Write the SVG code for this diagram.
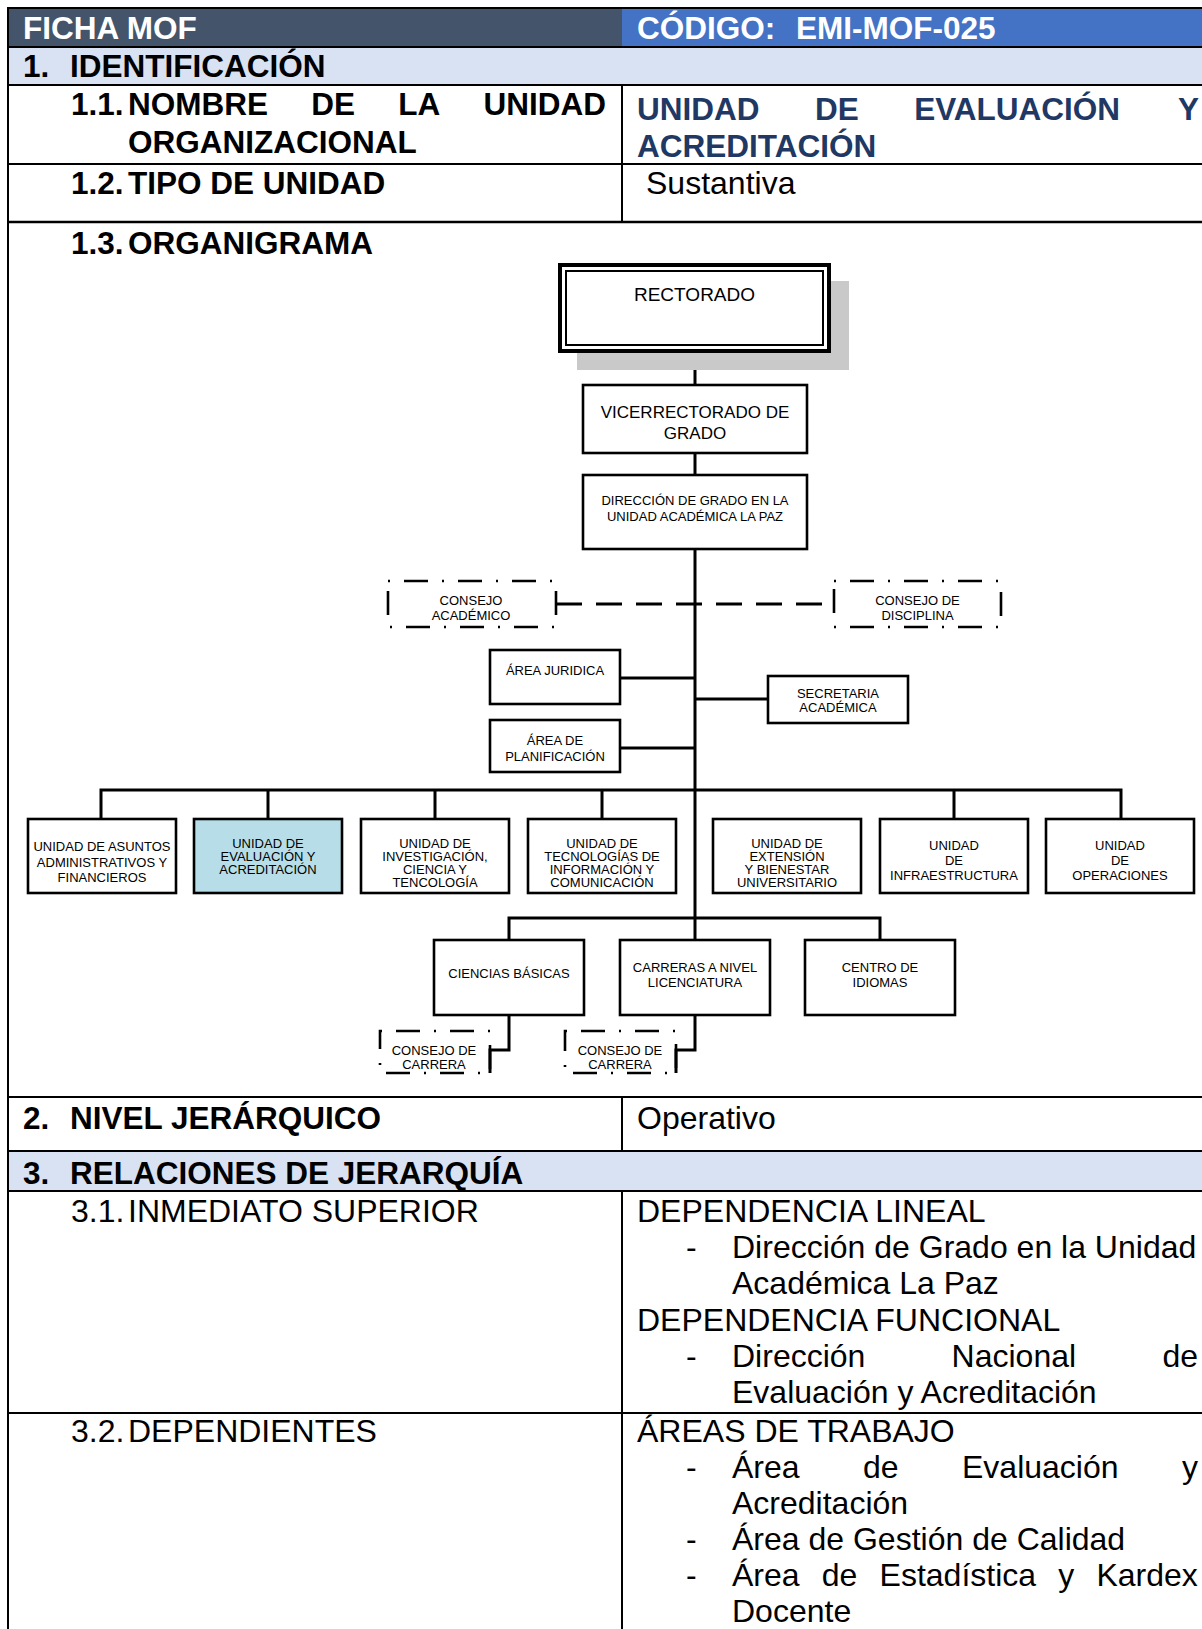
<svg xmlns="http://www.w3.org/2000/svg" width="1202" height="1629" viewBox="0 0 1202 1629">
<style>
text{font-family:"Liberation Sans",Arial,sans-serif;fill:#000}
.hb{font-size:31.5px;font-weight:bold}
.hw{font-size:31.5px;font-weight:bold;fill:#fff}
.nv{font-size:31.5px;font-weight:bold;fill:#1F3864}
.r{font-size:32px}
.tl{stroke:#000;stroke-width:2;fill:none}
.bx{fill:#fff;stroke:#000;stroke-width:2.6}
.dd{fill:none;stroke:#000;stroke-width:2.6;stroke-dasharray:24 14 2 14;stroke-dashoffset:38}
.cn{fill:none;stroke:#000;stroke-width:3}
.s19{font-size:19px;text-anchor:middle}
.s17{font-size:17px;text-anchor:middle}
.s13{font-size:13px;text-anchor:middle}
</style>
<g id="table">
<rect x="8" y="8" width="614" height="39" fill="#44546A"/>
<rect x="622" y="8" width="580" height="39" fill="#4472C4"/>
<rect x="8" y="47" width="1194" height="38" fill="#D9E2F3"/>
<rect x="8" y="1151" width="1194" height="40" fill="#D9E2F3"/>
<path class="tl" d="M7 8H1202M7 47H1202M7 85H1202M7 164H1202M7 1097H1202M7 1151H1202M7 1191H1202M7 1413H1202M8 7V1629M622 85V222M622 1097V1151M622 1191V1629"/>
<path d="M7 222H1202" stroke="#000" stroke-width="2.6"/>
<text class="hw" x="23" y="38.5">FICHA MOF</text>
<text class="hw" x="637" y="38.5">CÓDIGO:<tspan x="796">EMI-MOF-025</tspan></text>
<text class="hb" x="23" y="77">1.<tspan x="70">IDENTIFICACIÓN</tspan></text>
<text class="hb" x="71" y="115">1.1.<tspan x="128">NOMBRE</tspan><tspan x="311.3">DE</tspan><tspan x="398.3">LA</tspan><tspan x="483.6">UNIDAD</tspan></text>
<text class="hb" x="128" y="153">ORGANIZACIONAL</text>
<text class="nv" x="637" y="120">UNIDAD<tspan x="815">DE</tspan><tspan x="914.2">EVALUACIÓN</tspan><tspan x="1178">Y</tspan></text>
<text class="nv" x="637" y="157">ACREDITACIÓN</text>
<text class="hb" x="71" y="194">1.2.<tspan x="128">TIPO DE UNIDAD</tspan></text>
<text class="r" x="646" y="194">Sustantiva</text>
<text class="hb" x="71" y="254">1.3.<tspan x="128">ORGANIGRAMA</tspan></text>
<text class="hb" x="23" y="1129">2.<tspan x="70">NIVEL JERÁRQUICO</tspan></text>
<text class="r" x="637" y="1129">Operativo</text>
<text class="hb" x="23" y="1184">3.<tspan x="70">RELACIONES DE JERARQUÍA</tspan></text>
<text class="r" x="71" y="1222">3.1.<tspan x="128">INMEDIATO SUPERIOR</tspan></text>
<text class="r" x="637" y="1222">DEPENDENCIA LINEAL</text>
<text class="r" x="686" y="1258">-<tspan x="732">Dirección de Grado en la Unidad</tspan></text>
<text class="r" x="732" y="1294">Académica La Paz</text>
<text class="r" x="637" y="1331">DEPENDENCIA FUNCIONAL</text>
<text class="r" x="686" y="1367">-<tspan x="732">Dirección</tspan><tspan x="951.6">Nacional</tspan><tspan x="1162.4">de</tspan></text>
<text class="r" x="732" y="1403">Evaluación y Acreditación</text>
<text class="r" x="71" y="1442">3.2.<tspan x="128">DEPENDIENTES</tspan></text>
<text class="r" x="637" y="1442">ÁREAS DE TRABAJO</text>
<text class="r" x="686" y="1478">-<tspan x="732">Área</tspan><tspan x="863">de</tspan><tspan x="962">Evaluación</tspan><tspan x="1182">y</tspan></text>
<text class="r" x="732" y="1514">Acreditación</text>
<text class="r" x="686" y="1550">-<tspan x="732">Área de Gestión de Calidad</tspan></text>
<text class="r" x="686" y="1586">-<tspan x="732" word-spacing="13.3">Área de Estadística y Kardex</tspan></text>
<text class="r" x="732" y="1622">Docente</text>
</g>
<g id="connectors">
<path class="cn" d="M695 351V385M695 453V475M695 549V940"/>
<path class="cn" d="M556 604H834" stroke-dasharray="26 14"/>
<path class="cn" d="M620 678H695M620 748H695M695 699H768"/>
<path class="cn" d="M101 819V790H1121V819M268 790V819M435 790V819M602 790V819M954 790V819"/>
<path class="cn" d="M509 940V918H880V940"/>
<path class="cn" d="M509 1015V1050H490V1073M695 1015V1050H676V1073"/>
</g>
<g id="n-rectorado">
<rect x="577" y="281" width="272" height="89" fill="#C9C9C9"/>
<rect x="560" y="265" width="269" height="86" fill="#fff" stroke="#000" stroke-width="4"/>
<rect x="566" y="271" width="257" height="74" fill="none" stroke="#000" stroke-width="2"/>
<text class="s19" x="694.5" y="301">RECTORADO</text>
</g>
<g id="n-vicerrectorado">
<rect class="bx" x="583" y="385" width="224" height="68"/>
<text class="s17" x="695" y="418">VICERRECTORADO DE</text>
<text class="s17" x="695" y="439">GRADO</text>
</g>
<g id="n-direccion">
<rect class="bx" x="583" y="475" width="224" height="74"/>
<text class="s13" x="695" y="505">DIRECCIÓN DE GRADO EN LA</text>
<text class="s13" x="695" y="521">UNIDAD ACADÉMICA LA PAZ</text>
</g>
<g id="n-consejo-academico">
<rect class="dd" x="388" y="581" width="168" height="46"/>
<text class="s13" x="471" y="604.5">CONSEJO</text>
<text class="s13" x="471" y="620">ACADÉMICO</text>
</g>
<g id="n-consejo-disciplina">
<rect class="dd" x="834" y="581" width="167" height="46"/>
<text class="s13" x="917.5" y="604.5">CONSEJO DE</text>
<text class="s13" x="917.5" y="620">DISCIPLINA</text>
</g>
<g id="n-juridica">
<rect class="bx" x="490" y="650" width="130" height="54"/>
<text class="s13" x="555" y="675">ÁREA JURIDICA</text>
</g>
<g id="n-planificacion">
<rect class="bx" x="490" y="720" width="130" height="52"/>
<text class="s13" x="555" y="745">ÁREA DE</text>
<text class="s13" x="555" y="760.5">PLANIFICACIÓN</text>
</g>
<g id="n-secretaria">
<rect class="bx" x="768" y="676" width="140" height="47"/>
<text class="s13" x="838" y="698">SECRETARIA</text>
<text class="s13" x="838" y="711.5">ACADÉMICA</text>
</g>
<g id="n-u-asuntos">
<rect class="bx" x="28" y="819" width="148" height="74"/>
<text class="s13" x="102" y="851">UNIDAD DE ASUNTOS</text>
<text class="s13" x="102" y="866.5">ADMINISTRATIVOS Y</text>
<text class="s13" x="102" y="882">FINANCIEROS</text>
</g>
<g id="n-u-evaluacion">
<rect class="bx" x="194" y="819" width="148" height="74" style="fill:#B7DEE8"/>
<text class="s13" x="268" y="847.7">UNIDAD DE</text>
<text class="s13" x="268" y="861">EVALUACIÓN Y</text>
<text class="s13" x="268" y="873.7">ACREDITACIÓN</text>
</g>
<g id="n-u-investigacion">
<rect class="bx" x="361" y="819" width="148" height="74"/>
<text class="s13" x="435" y="847.7">UNIDAD DE</text>
<text class="s13" x="435" y="861">INVESTIGACIÓN,</text>
<text class="s13" x="435" y="873.7">CIENCIA Y</text>
<text class="s13" x="435" y="887">TENCOLOGÍA</text>
</g>
<g id="n-u-tecnologias">
<rect class="bx" x="528" y="819" width="148" height="74"/>
<text class="s13" x="602" y="847.7">UNIDAD DE</text>
<text class="s13" x="602" y="861">TECNOLOGÍAS DE</text>
<text class="s13" x="602" y="873.7">INFORMACIÓN Y</text>
<text class="s13" x="602" y="887">COMUNICACIÓN</text>
</g>
<g id="n-u-extension">
<rect class="bx" x="713" y="819" width="148" height="74"/>
<text class="s13" x="787" y="847.7">UNIDAD DE</text>
<text class="s13" x="787" y="861">EXTENSIÓN</text>
<text class="s13" x="787" y="873.7">Y BIENESTAR</text>
<text class="s13" x="787" y="887">UNIVERSITARIO</text>
</g>
<g id="n-u-infraestructura">
<rect class="bx" x="880" y="819" width="148" height="74"/>
<text class="s13" x="954" y="850">UNIDAD</text>
<text class="s13" x="954" y="864.5">DE</text>
<text class="s13" x="954" y="880">INFRAESTRUCTURA</text>
</g>
<g id="n-u-operaciones">
<rect class="bx" x="1046" y="819" width="148" height="74"/>
<text class="s13" x="1120" y="850">UNIDAD</text>
<text class="s13" x="1120" y="864.5">DE</text>
<text class="s13" x="1120" y="880">OPERACIONES</text>
</g>
<g id="n-ciencias">
<rect class="bx" x="434" y="940" width="150" height="75"/>
<text class="s13" x="509" y="977.5">CIENCIAS BÁSICAS</text>
</g>
<g id="n-carreras">
<rect class="bx" x="620" y="940" width="150" height="75"/>
<text class="s13" x="695" y="971.5">CARRERAS A NIVEL</text>
<text class="s13" x="695" y="987">LICENCIATURA</text>
</g>
<g id="n-idiomas">
<rect class="bx" x="805" y="940" width="150" height="75"/>
<text class="s13" x="880" y="971.5">CENTRO DE</text>
<text class="s13" x="880" y="987">IDIOMAS</text>
</g>
<g id="n-consejo-carrera-1">
<rect class="dd" x="380" y="1031" width="110" height="42"/>
<text class="s13" x="434" y="1054.5">CONSEJO DE</text>
<text class="s13" x="434" y="1069">CARRERA</text>
</g>
<g id="n-consejo-carrera-2">
<rect class="dd" x="565" y="1031" width="111" height="42"/>
<text class="s13" x="620" y="1054.5">CONSEJO DE</text>
<text class="s13" x="620" y="1069">CARRERA</text>
</g>
</svg>
